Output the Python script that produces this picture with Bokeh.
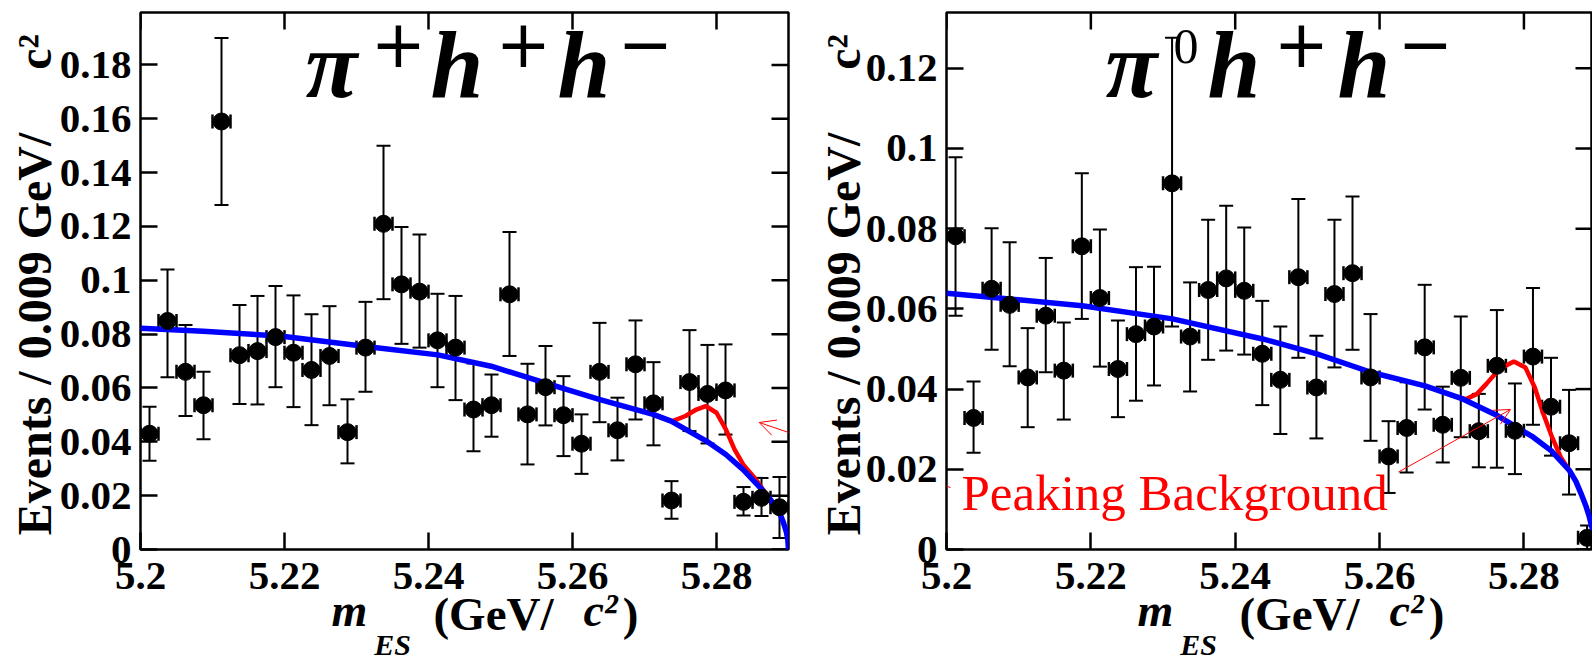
import math
from bokeh.plotting import figure
from bokeh.models import (ColumnDataSource, Whisker, TeeHead, Label, Arrow, OpenHead,
                          FixedTicker, LinearAxis, Range1d, CustomJSTickFormatter)
from bokeh.layouts import row
from bokeh.embed import file_html
from bokeh.resources import INLINE

# ---------------- data ----------------
bin_centers = [5.20125, 5.20375, 5.20625, 5.20875, 5.21125, 5.21375, 5.21625, 5.21875,
               5.22125, 5.22375, 5.22625, 5.22875, 5.23125, 5.23375, 5.23625, 5.23875,
               5.24125, 5.24375, 5.24625, 5.24875, 5.25125, 5.25375, 5.25625, 5.25875,
               5.26125, 5.26375, 5.26625, 5.26875, 5.27125, 5.27375, 5.27625, 5.27875,
               5.28125, 5.28375, 5.28625, 5.28875]
bin_half_width = 0.00125

left_y = [0.0430, 0.0849, 0.0660, 0.0536, 0.1590, 0.0722, 0.0737, 0.0789, 0.0731, 0.0667,
          0.0719, 0.0436, 0.0750, 0.1210, 0.0985, 0.0958, 0.0777, 0.0750, 0.0520, 0.0536,
          0.0948, 0.0502, 0.0603, 0.0499, 0.0393, 0.0660, 0.0443, 0.0688, 0.0543, 0.0182,
          0.0622, 0.0578, 0.0591, 0.0177, 0.0192, 0.0157]
left_hi = [0.0530, 0.1040, 0.0834, 0.0660, 0.1900, 0.0908, 0.0942, 0.0979, 0.0944, 0.0874,
           0.0904, 0.0558, 0.0920, 0.1500, 0.1198, 0.1170, 0.0950, 0.0942, 0.0691, 0.0650,
           0.1180, 0.0690, 0.0756, 0.0644, 0.0502, 0.0842, 0.0564, 0.0851, 0.0696, 0.0254,
           0.0815, 0.0760, 0.0762, 0.0232, 0.0266, 0.0269]
left_lo = [0.0330, 0.0640, 0.0496, 0.0410, 0.1280, 0.0541, 0.0539, 0.0603, 0.0529, 0.0462,
           0.0536, 0.0320, 0.0586, 0.0930, 0.0764, 0.0750, 0.0603, 0.0555, 0.0365, 0.0419,
           0.0719, 0.0316, 0.0461, 0.0347, 0.0281, 0.0473, 0.0331, 0.0483, 0.0387, 0.0114,
           0.0440, 0.0394, 0.0427, 0.0126, 0.0124, 0.0043]

right_y = [0.0781, 0.0328, 0.0650, 0.0610, 0.0429, 0.0583, 0.0446, 0.0756, 0.0627, 0.0450,
           0.0537, 0.0556, 0.0913, 0.0531, 0.0647, 0.0676, 0.0645, 0.0488, 0.0423, 0.0679,
           0.0404, 0.0637, 0.0689, 0.0429, 0.0232, 0.0303, 0.0504, 0.0311, 0.0428, 0.0295,
           0.0458, 0.0296, 0.0481, 0.0356, 0.0265, 0.0029]
right_hi = [0.0978, 0.0419, 0.0801, 0.0766, 0.0552, 0.0727, 0.0566, 0.0938, 0.0798, 0.0571,
            0.0704, 0.0705, 0.1276, 0.0666, 0.0822, 0.0857, 0.0803, 0.0620, 0.0556, 0.0874,
            0.0533, 0.0822, 0.0880, 0.0587, 0.0320, 0.0417, 0.0660, 0.0406, 0.0581, 0.0388,
            0.0597, 0.0414, 0.0652, 0.0478, 0.0398, 0.0060]
right_lo = [0.0583, 0.0241, 0.0498, 0.0457, 0.0305, 0.0442, 0.0324, 0.0575, 0.0456, 0.0330,
            0.0371, 0.0409, 0.0556, 0.0394, 0.0473, 0.0496, 0.0486, 0.0360, 0.0288, 0.0478,
            0.0277, 0.0454, 0.0498, 0.0271, 0.0141, 0.0192, 0.0349, 0.0217, 0.0280, 0.0205,
            0.0204, 0.0188, 0.0311, 0.0234, 0.0137, 0.0000]

# background fit (blue) and fit incl. peaking background (red)
left_bkg_m = [5.2000, 5.2087, 5.2194, 5.2319, 5.2413, 5.2487, 5.2562, 5.2637, 5.2712, 5.2737,
              5.2786, 5.2813, 5.2837, 5.2861, 5.2875, 5.2887, 5.2893, 5.2897, 5.2899, 5.2900]
left_bkg_v = [0.0822, 0.0811, 0.0793, 0.0752, 0.0723, 0.0681, 0.0619, 0.0558, 0.0502, 0.0477,
              0.0403, 0.0353, 0.0297, 0.0229, 0.0185, 0.0140, 0.0100, 0.0065, 0.0037, 0.0000]
left_tot_m = [5.2712, 5.2738, 5.2757, 5.2772, 5.2785, 5.2800, 5.2813, 5.2825, 5.2837, 5.2853, 5.2868]
left_tot_v = [0.0502, 0.0476, 0.0496, 0.0520, 0.0533, 0.0508, 0.0446, 0.0372, 0.0316, 0.0266, 0.0210]

right_bkg_m = [5.2000, 5.2188, 5.2313, 5.2438, 5.2513, 5.2588, 5.2663, 5.2713, 5.2763, 5.2813,
               5.2838, 5.2863, 5.2872, 5.2879, 5.2886, 5.2890, 5.2895, 5.2900]
right_bkg_v = [0.0639, 0.0608, 0.0575, 0.0525, 0.0488, 0.0442, 0.0408, 0.0377, 0.0334, 0.0280,
               0.0246, 0.0197, 0.0170, 0.0140, 0.0108, 0.0085, 0.0050, 0.0000]
right_tot_m = [5.2699, 5.2720, 5.2735, 5.2748, 5.2766, 5.2786, 5.2802, 5.2815, 5.2827, 5.2839, 5.2851, 5.2863]
right_tot_v = [0.0385, 0.0375, 0.0388, 0.0413, 0.0450, 0.0469, 0.0454, 0.0404, 0.0338, 0.0280, 0.0230, 0.0197]

x_ticks = [5.2, 5.22, 5.24, 5.26, 5.28]
x_tick_labels = ["5.2", "5.22", "5.24", "5.26", "5.28"]
left_y_ticks = [0, 0.02, 0.04, 0.06, 0.08, 0.1, 0.12, 0.14, 0.16, 0.18]
left_y_labels = ["0", "0.02", "0.04", "0.06", "0.08", "0.1", "0.12", "0.14", "0.16", "0.18"]
right_y_ticks = [0, 0.02, 0.04, 0.06, 0.08, 0.1, 0.12]
right_y_labels = ["0", "0.02", "0.04", "0.06", "0.08", "0.1", "0.12"]

y_title_main = "Events / 0.009 GeV/"
y_title_unit = "c\u00b2"
x_title_var = "m"
x_title_sub = "ES"
x_title_open = "(GeV/"
x_title_unit = "c\u00b2"
x_title_close = ")"
annotation_text = "Peaking Background"

# ---------------- layout constants ----------------
H = 663
TOP, BOTTOM = 12, 114
P1_W, P1_LEFT, P1_RIGHT = 790, 140, 2
P2_W, P2_LEFT, P2_RIGHT = 802, 156, 0
X1 = (5.2, 5.29)
X2 = (5.2, 5.2895)
Y1 = (0, 0.1995)
Y2 = (0, 0.1339)

SERIF = "Liberation Serif"
SANS = "DejaVu Sans"
BLUE = "#0000ff"
RED = "#ff0000"
TICK = 17


def make_conv(canvas_x0, frame_left, frame_w, xr, yr):
    fh = H - TOP - BOTTOM
    def cx(px):
        return xr[0] + (px - canvas_x0 - frame_left) * (xr[1] - xr[0]) / frame_w
    def cy(py):
        return yr[0] + (TOP + fh - py) * (yr[1] - yr[0]) / fh
    return cx, cy


def make_panel(width, left, right, xr, yr, yticks, ylabels):
    p = figure(width=width, height=H, x_range=Range1d(*xr), y_range=Range1d(*yr),
               output_backend="svg", toolbar_location=None,
               min_border_left=left, min_border_right=right,
               min_border_top=TOP, min_border_bottom=BOTTOM)
    p.background_fill_color = "white"
    p.border_fill_color = "white"
    p.outline_line_color = "black"
    p.outline_line_width = 2.5
    p.xgrid.visible = False
    p.ygrid.visible = False
    p.xaxis.ticker = FixedTicker(ticks=x_ticks)
    p.xaxis.major_label_overrides = {t: l for t, l in zip(x_ticks, x_tick_labels)}
    p.yaxis.ticker = FixedTicker(ticks=yticks)
    p.yaxis.major_label_overrides = {t: l for t, l in zip(yticks, ylabels)}
    for ax in list(p.xaxis) + list(p.yaxis):
        ax.axis_line_color = None
        ax.major_tick_in = TICK
        ax.major_tick_out = 0
        ax.major_tick_line_width = 2.5
        ax.minor_tick_in = 0
        ax.minor_tick_out = 0
        ax.major_label_text_font = SERIF
        ax.major_label_text_font_style = "bold"
        ax.major_label_text_font_size = "41px"
        ax.major_label_text_color = "black"
    p.xaxis.major_label_standoff = 13
    p.yaxis.major_label_standoff = 9
    # inward ticks on the top and right edges of the frame
    fw = width - left - right
    fh = H - TOP - BOTTOM
    ty = TICK * (yr[1] - yr[0]) / fh
    tx = TICK * (xr[1] - xr[0]) / fw
    p.segment(x0=x_ticks, y0=[yr[1]] * len(x_ticks), x1=x_ticks, y1=[yr[1] - ty] * len(x_ticks),
              line_color="black", line_width=2.5)
    p.segment(x0=[xr[1]] * len(yticks), y0=yticks, x1=[xr[1] - tx] * len(yticks), y1=yticks,
              line_color="black", line_width=2.5)
    return p


def carrier(p, side, positions, texts, style, size, standoff, orientation=None):
    """An extra axis without ticks whose labels carry the axis-title pieces."""
    fmt = CustomJSTickFormatter(args=dict(pos=positions, txt=texts), code="""
        let best = 0, bd = Infinity;
        for (let i = 0; i < pos.length; i++) {
            const d = Math.abs(pos[i] - tick);
            if (d < bd) { bd = d; best = i; }
        }
        return txt[best];
    """)
    ax = LinearAxis(ticker=FixedTicker(ticks=positions), formatter=fmt,
                    axis_line_color=None, major_tick_line_color=None,
                    minor_tick_line_color=None,
                    major_tick_in=0, major_tick_out=0, minor_tick_in=0, minor_tick_out=0,
                    major_label_text_font=SERIF, major_label_text_font_style=style,
                    major_label_text_font_size=f"{size}px", major_label_standoff=standoff,
                    major_label_text_color="black")
    if orientation is not None:
        ax.major_label_orientation = orientation
    p.add_layout(ax, side)


def add_data(p, ys, lo, hi, bkg_m, bkg_v, tot_m, tot_v):
    src = ColumnDataSource(dict(
        x=bin_centers, y=ys, lo=lo, hi=hi,
        xl=[c - bin_half_width for c in bin_centers],
        xh=[c + bin_half_width for c in bin_centers]))
    p.add_layout(Whisker(source=src, base="x", lower="lo", upper="hi", dimension="height",
                         line_width=2, line_color="black",
                         lower_head=TeeHead(size=14, line_width=2, line_color="black"),
                         upper_head=TeeHead(size=14, line_width=2, line_color="black")))
    p.add_layout(Whisker(source=src, base="y", lower="xl", upper="xh", dimension="width",
                         line_width=2, line_color="black",
                         lower_head=TeeHead(size=14, line_width=2.5, line_color="black"),
                         upper_head=TeeHead(size=14, line_width=2.5, line_color="black")))
    p.line(tot_m, tot_v, line_color=RED, line_width=4.5)
    p.line(bkg_m, bkg_v, line_color=BLUE, line_width=5.5)
    p.scatter("x", "y", source=src, size=17, color="black")


def lab(p, cx, cy, text, px, py, size, style="bold", font=SERIF, color="black", align="left"):
    # py is the wanted baseline; the renderer puts the baseline ~0.35 em lower
    p.add_layout(Label(x=cx(px), y=cy(py - 0.35 * size), text=text, text_font=font,
                       text_font_style=style, text_font_size=f"{size}px",
                       text_color=color, text_align=align, text_baseline="alphabetic"))


def axis_titles(p, cx, cy, dx):
    # x title pieces (horizontal centres in canvas px)
    carrier(p, "below", [cx(349 + dx), cx(600 + dx)], [x_title_var, x_title_unit],
            "bold italic", 46, -7)
    carrier(p, "below", [cx(493 + dx), cx(630 + dx)], [x_title_open, x_title_close],
            "bold", 47, -51)
    carrier(p, "below", [cx(392 + dx)], [x_title_sub], "bold italic", 30, -15)


def title(p, cx, cy, items):
    for text, px, py, size, style, font, align in items:
        lab(p, cx, cy, text, px, py, size, style=style, font=font, align=align)


# ---------------- left panel ----------------
p1 = make_panel(P1_W, P1_LEFT, P1_RIGHT, X1, Y1, left_y_ticks, left_y_labels)
c1x, c1y = make_conv(0, P1_LEFT, P1_W - P1_LEFT - P1_RIGHT, X1, Y1)
add_data(p1, left_y, left_lo, left_hi, left_bkg_m, left_bkg_v, left_tot_m, left_tot_v)
axis_titles(p1, c1x, c1y, 0)
carrier(p1, "left", [c1y(333.5), c1y(51.5)], [y_title_main, y_title_unit], "bold", 48, -4,
        orientation="vertical")
title(p1, c1x, c1y, [
    ("\u03c0", 305, 98, 95, "bold italic", SERIF, "left"),
    ("+", 398, 65, 66, "normal", SANS, "center"),
    ("h", 430, 98, 95, "bold italic", SERIF, "left"),
    ("+", 523, 65, 66, "normal", SANS, "center"),
    ("h", 557, 98, 95, "bold italic", SERIF, "left"),
    ("\u2212", 645, 65, 66, "normal", SANS, "center"),
])
p1.add_layout(Arrow(x_start=c1x(950), y_start=c1y(487), x_end=c1x(758.7), y_end=c1y(422),
                    line_color=RED, line_width=1,
                    end=OpenHead(size=16, line_color=RED, line_width=1)))

# ---------------- right panel ----------------
p2 = make_panel(P2_W, P2_LEFT, P2_RIGHT, X2, Y2, right_y_ticks, right_y_labels)
c2x, c2y = make_conv(P1_W, P2_LEFT, P2_W - P2_LEFT - P2_RIGHT, X2, Y2)
add_data(p2, right_y, right_lo, right_hi, right_bkg_m, right_bkg_v, right_tot_m, right_tot_v)
axis_titles(p2, c2x, c2y, 806)
carrier(p2, "left", [c2y(333.5), c2y(51.5)], [y_title_main, y_title_unit], "bold", 48, -7,
        orientation="vertical")
title(p2, c2x, c2y, [
    ("\u03c0", 1105, 98, 95, "bold italic", SERIF, "left"),
    ("0", 1173, 63, 50, "normal", SERIF, "left"),
    ("h", 1207, 98, 95, "bold italic", SERIF, "left"),
    ("+", 1301, 65, 66, "normal", SANS, "center"),
    ("h", 1337, 98, 95, "bold italic", SERIF, "left"),
    ("\u2212", 1425, 65, 66, "normal", SANS, "center"),
])
lab(p2, c2x, c2y, annotation_text, 961, 510, 51, style="normal", color=RED)
p2.add_layout(Arrow(x_start=c2x(1398), y_start=c2y(471.5), x_end=c2x(1510), y_end=c2y(409),
                    line_color=RED, line_width=1,
                    end=OpenHead(size=16, line_color=RED, line_width=1)))
p2.add_layout(Arrow(x_start=c2x(950), y_start=c2y(487), x_end=c2x(758.7), y_end=c2y(422),
                    line_color=RED, line_width=1, end=None))

layout = row(p1, p2)
open("out.html", "w").write(file_html(layout, INLINE))
